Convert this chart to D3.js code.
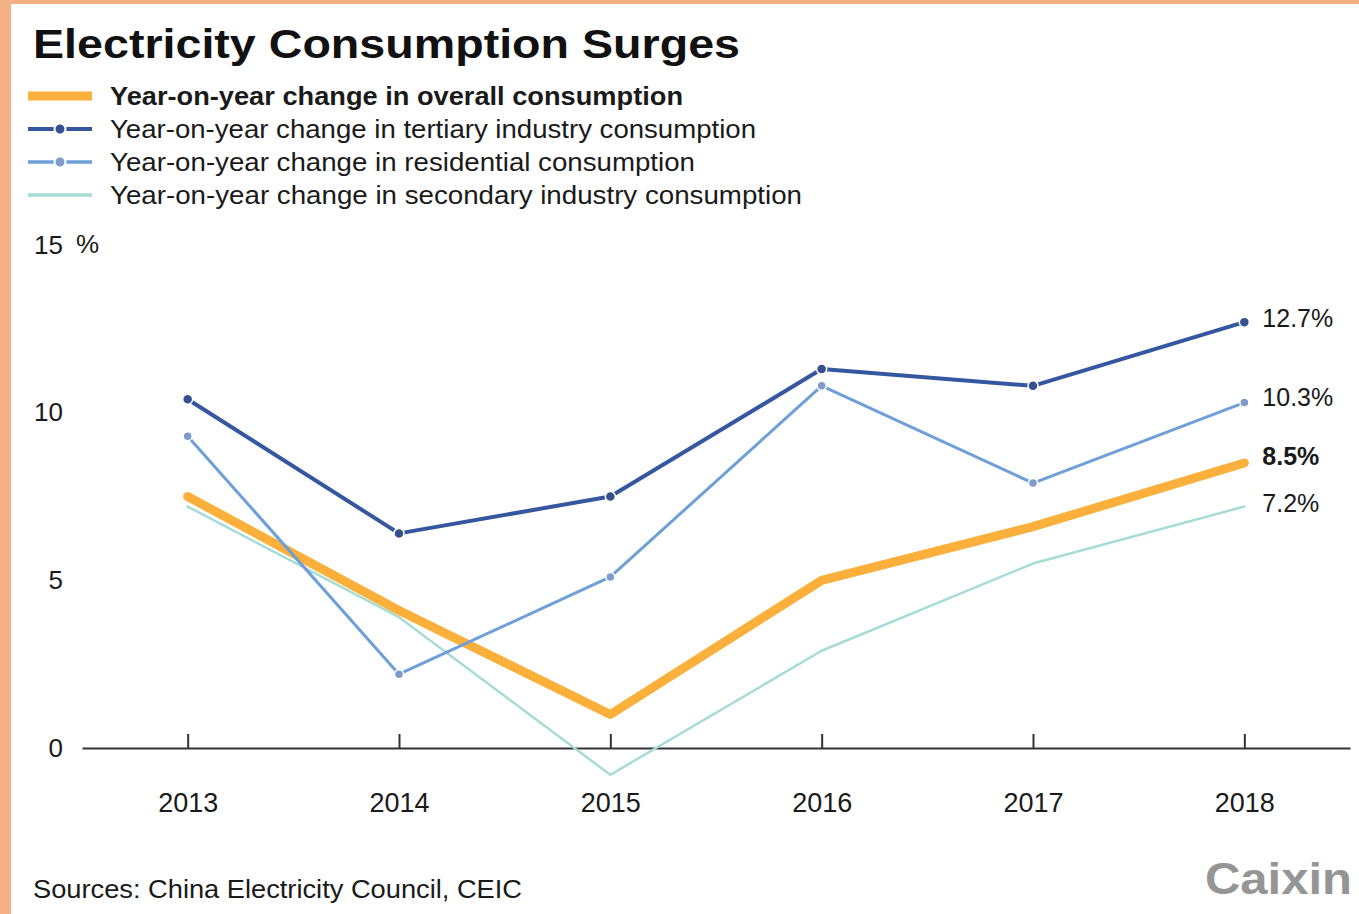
<!DOCTYPE html>
<html>
<head>
<meta charset="utf-8">
<script src="https://cdn.jsdelivr.net/npm/d3@7"></script>
<style>
  body { margin: 0; background: #fff; }
  svg { display: block; font-family: "Liberation Sans", Arial, Helvetica, sans-serif; }
</style>
</head>
<body>
<svg id="chart" width="1359" height="914"></svg>
<script>
// data
const years = ["2013", "2014", "2015", "2016", "2017", "2018"]
const overall = [7.5, 4.1, 1.0, 5.0, 6.6, 8.5]
const tertiary = [10.4, 6.4, 7.5, 11.3, 10.8, 12.7]
const residential = [9.3, 2.2, 5.1, 10.8, 7.9, 10.3]
const secondary = [7.2, 3.9, -0.8, 2.9, 5.5, 7.2]
const yTicks = [0, 5, 10, 15]
const legendLabels = [
  "Year-on-year change in overall consumption",
  "Year-on-year change in tertiary industry consumption",
  "Year-on-year change in residential consumption",
  "Year-on-year change in secondary industry consumption"
]

function drawChart(){
  const svg = d3.select("#chart")

  // orange frame on left and top
  svg.append("rect").attr("x", 0).attr("y", 0).attr("width", 1359).attr("height", 4).attr("fill", "#f3b084")
  svg.append("rect").attr("x", 0).attr("y", 0).attr("width", 11).attr("height", 914).attr("fill", "#f3b084")

  const x = d3.scalePoint().domain(years).range([82, 1350]).padding(0.5)
  const y = d3.scaleLinear().domain([0, 15]).range([748, 245])

  // series, drawn bottom to top
  const series = [
    {name: "secondary", values: secondary, color: "#a6dcd6", width: 2.5, dot: false, label: "7.2%", dy: -3, bold: false},
    {name: "overall", values: overall, color: "#fbb03b", width: 9, dot: false, label: "8.5%", dy: -7, bold: true},
    {name: "residential", values: residential, color: "#6f9fd8", width: 3, dot: true, dotColor: "#7d9ccc", r: 4.5, label: "10.3%", dy: -5, bold: false},
    {name: "tertiary", values: tertiary, color: "#3557a0", width: 4, dot: true, dotColor: "#34508f", r: 5, label: "12.7%", dy: -4, bold: false}
  ]

  // title
  svg.append("text")
    .attr("x", 33).attr("y", 58)
    .attr("font-size", 41).attr("font-weight", "bold")
    .attr("textLength", 707).attr("lengthAdjust", "spacingAndGlyphs")
    .attr("fill", "#111")
    .text("Electricity Consumption Surges")

  // legend (widths stretched like the original)
  const legendOrder = ["overall", "tertiary", "residential", "secondary"]
  const legendWidths = [573, 646, 585, 692]
  const legend = svg.append("g").attr("id", "legend")
  legendOrder.forEach((key, i) => {
    const s = series.find(d => d.name === key)
    const cy = 96 + i * 33
    legend.append("line")
      .attr("x1", 28).attr("x2", 92).attr("y1", cy).attr("y2", cy)
      .attr("stroke", s.color).attr("stroke-width", Math.max(s.width, 3.5))
    if (s.dot) {
      legend.append("circle").attr("cx", 60).attr("cy", cy).attr("r", 5.5)
        .attr("fill", s.dotColor).attr("stroke", "#fff").attr("stroke-width", 2)
    }
    legend.append("text")
      .attr("x", 110).attr("y", cy + 9)
      .attr("font-size", 25)
      .attr("font-weight", i === 0 ? "bold" : "normal")
      .attr("textLength", legendWidths[i]).attr("lengthAdjust", "spacingAndGlyphs")
      .attr("fill", "#1a1a1a")
      .text(legendLabels[i])
  })

  // y axis labels only
  const yAxis = svg.append("g")
    .attr("transform", "translate(70,0)")
    .call(d3.axisLeft(y).tickValues(yTicks).tickSize(0).tickPadding(7))
  yAxis.select(".domain").remove()
  yAxis.selectAll("text").attr("font-size", 26).attr("font-family", "Liberation Sans, Arial, sans-serif").attr("fill", "#1a1a1a")
  svg.append("text").attr("x", 76).attr("y", y(15)).attr("dy", "0.32em")
    .attr("font-size", 26).attr("fill", "#1a1a1a").text("%")

  // x axis with upward ticks
  const xAxis = svg.append("g")
    .attr("transform", "translate(0," + y(0) + ")")
    .call(d3.axisBottom(x).tickSizeInner(-14).tickSizeOuter(0).tickPadding(45))
  xAxis.select(".domain").attr("stroke", "#333").attr("stroke-width", 2)
  xAxis.selectAll(".tick line").attr("stroke", "#333").attr("stroke-width", 2)
  xAxis.selectAll("text").attr("font-size", 27).attr("font-family", "Liberation Sans, Arial, sans-serif").attr("fill", "#1a1a1a")

  // lines
  const line = d3.line().x((d, i) => x(years[i])).y(d => y(d))
  const plot = svg.append("g").attr("id", "plot")
  series.forEach(s => {
    plot.append("path")
      .datum(s.values)
      .attr("d", line)
      .attr("fill", "none")
      .attr("stroke", s.color)
      .attr("stroke-width", s.width)
      .attr("stroke-linejoin", "round")
      .attr("stroke-linecap", "round")
    if (s.dot) {
      plot.selectAll("circle." + s.name)
        .data(s.values)
        .enter()
        .append("circle")
        .attr("class", s.name)
        .attr("cx", (d, i) => x(years[i]))
        .attr("cy", d => y(d))
        .attr("r", s.r)
        .attr("fill", s.dotColor)
        .attr("stroke", "#fff")
        .attr("stroke-width", 1.5)
    }
    // end label
    const last = s.values[s.values.length - 1]
    plot.append("text")
      .attr("x", x(years[years.length - 1]) + 18)
      .attr("y", y(last) + s.dy)
      .attr("dy", "0.35em")
      .attr("font-size", 25)
      .attr("font-weight", s.bold ? "bold" : "normal")
      .attr("fill", "#1a1a1a")
      .text(s.label)
  })

  // footer
  svg.append("text").attr("x", 33).attr("y", 898)
    .attr("font-size", 25).attr("fill", "#1a1a1a")
    .attr("textLength", 489).attr("lengthAdjust", "spacingAndGlyphs")
    .text("Sources: China Electricity Council, CEIC")
  svg.append("text").attr("x", 1205).attr("y", 894)
    .attr("font-size", 45).attr("font-weight", "bold")
    .attr("textLength", 147).attr("lengthAdjust", "spacingAndGlyphs")
    .attr("fill", "#959595")
    .text("Caixin")
}

drawChart()
</script>
</body>
</html>
